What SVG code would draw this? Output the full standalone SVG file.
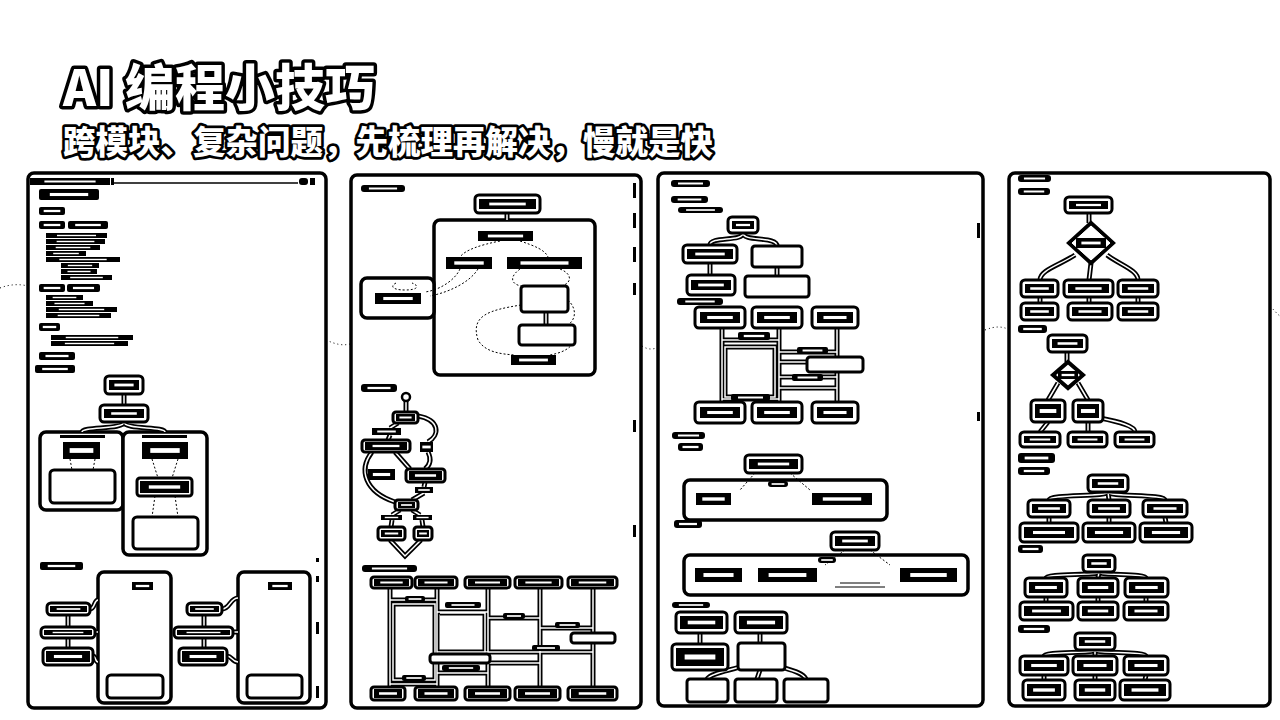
<svg xmlns="http://www.w3.org/2000/svg" width="1280" height="720" viewBox="0 0 1280 720">
<style>
.p{fill:#fff;stroke:#000;stroke-width:3.5}
.c{fill:#fff;stroke:#000;stroke-width:3.5}
.d{fill:#fff;stroke:#000;stroke-width:3}
.k{fill:url(#tx)}
.w{fill:#fff;stroke:#000;stroke-width:3}
.wb{fill:none;stroke:#000;stroke-width:5}
.wi{fill:none;stroke:#fff;stroke-width:1.5}
.dt{fill:none;stroke:#000;stroke-width:1;stroke-dasharray:2 2}
.bg{fill:none;stroke:#000;stroke-width:1;stroke-dasharray:1 3}
.sb{fill:#000}
.h1{font-family:"Noto Sans CJK SC","Noto Sans",sans-serif;font-weight:900;fill:#fff;stroke:#000;stroke-linejoin:round;paint-order:stroke}
</style>
<defs>
<pattern id="tx" patternUnits="objectBoundingBox" width="1" height="1" patternContentUnits="objectBoundingBox">
<rect width="1" height="1" fill="#000"/>
<rect x="0.18" y="0.36" width="0.64" height="0.28" fill="#fff"/>
</pattern>
<g id="wires">
<path d="M124,394 L124,405"/>
<path d="M124,422 C124,430 82,426 82,432"/>
<path d="M124,422 C124,430 165,426 165,432"/>
<path d="M68,615 L68,627 M68,638 L68,648"/>
<path d="M90,609 C95,609 94,600 98,600 M95,632 L98,632 M93,656 C96,656 95,662 98,662"/>
<path d="M204,615 L204,627 M204,638 L204,648"/>
<path d="M222,609 C230,609 230,598 238,598 M233,632 L238,632 M227,656 C232,656 232,662 238,662"/>
<path d="M507,213 L507,220"/>
<path d="M546,312 L546,325"/>
<path d="M406,401 L406,412"/>
<path d="M398,423 L390,428 M390,435 L388,440"/>
<path d="M418,416 C440,420 440,435 428,442"/>
<path d="M428,452 C432,460 430,465 425,469"/>
<path d="M372,452 C358,470 365,492 395,502"/>
<path d="M395,452 L410,469"/>
<path d="M425,482 L424,487 M424,493 L412,500"/>
<path d="M400,510 L392,515 M412,510 L420,515"/>
<path d="M392,520 L391,527 M422,520 L423,527"/>
<path d="M390,540 L405,556 L421,540"/>
<path d="M390,588 L390,687 M437,588 L437,687 M488,588 L488,687 M540,588 L540,687 M593,588 L593,687"/>
<path d="M390,600 L437,600 M393,604 L435,604 L435,680 L393,680 Z"/>
<path d="M437,612 L488,612 M440,613 L485,613 L485,653 L440,653"/>
<path d="M488,618 L540,618 M540,628 L593,628 M437,652 L593,652 M437,673 L488,673 M390,684 L437,684 M488,663 L540,663"/>
<path d="M743,233 C743,242 710,236 710,245 M743,233 C743,242 777,236 777,246"/>
<path d="M710,263 L710,275 M777,267 L777,276"/>
<path d="M722,328 L722,402 M779,328 L779,402 M837,328 L837,402"/>
<path d="M722,340 L779,340 M725,347 L775,347 L775,397 L725,397 Z"/>
<path d="M779,352 L837,352 M779,362 L807,362 M779,377 L837,377 M779,388 L837,388 M722,399 L779,399"/>
<path d="M700,633 L700,644 M760,633 L760,643"/>
<path d="M745,665 C735,670 712,672 707,679 M760,670 L757,679 M775,665 C790,670 802,672 806,679"/>
<path d="M1089,213 L1089,223"/>
<path d="M1075,255 C1060,265 1040,270 1040,280 M1091,263 L1089,280 M1107,255 C1120,265 1138,270 1138,280"/>
<path d="M1040,297 L1040,303 M1089,297 L1089,303 M1138,297 L1138,303"/>
<path d="M1067,352 L1067,362"/>
<path d="M1058,383 L1048,400 M1078,383 L1088,400"/>
<path d="M1048,422 L1040,432 M1088,422 L1088,432 M1100,418 C1120,422 1135,426 1135,432"/>
<path d="M1108,492 C1108,497 1049,494 1049,500 M1108,492 L1109,500 M1108,492 C1108,497 1165,494 1165,500"/>
<path d="M1049,517 L1049,523 M1109,517 L1109,523 M1165,517 L1166,523"/>
<path d="M1099,572 C1099,576 1046,573 1046,578 M1099,572 L1098,578 M1099,572 C1099,576 1146,573 1146,578"/>
<path d="M1046,597 L1046,602 M1098,597 L1098,602 M1146,597 L1146,602"/>
<path d="M1095,650 C1095,654 1044,651 1044,656 M1095,650 L1095,656 M1095,650 C1095,654 1146,651 1146,656"/>
<path d="M1044,675 L1044,680 M1095,675 L1095,680 M1146,675 L1145,680"/>
</g>
</defs>
<rect width="1280" height="720" fill="#fff"/>
<g id="background-lines">
<path class="bg" d="M0,288 C10,284 20,284 28,286"/>
<path class="bg" d="M326,340 C335,344 342,346 350,344"/>
<path class="bg" d="M642,346 C648,350 654,350 660,346"/>
<path class="bg" d="M985,330 C995,326 1002,326 1010,330"/>
<path class="bg" d="M1270,306 C1274,310 1277,314 1280,316"/>
</g>
<g id="title">
<text class="h1" x="63" y="106" font-size="50" stroke-width="7">AI 编程小技巧</text>
<text class="h1" x="63" y="154" font-size="32.5" stroke-width="5.5">跨模块、复杂问题，先梳理再解决，慢就是快</text>
</g>
<g id="panel1">
<rect class="p" x="28" y="173" width="298" height="535" rx="6"/>
<rect class="k" x="30" y="178" width="80" height="7"/>
<rect class="sb" x="111" y="178" width="3" height="7"/>
<line x1="114" y1="183" x2="298" y2="183" stroke="#000" stroke-width="1.5"/>
<rect class="sb" x="299" y="178" width="9" height="7" rx="3"/>
<rect class="sb" x="310" y="178" width="5" height="7"/>
<rect class="sb" x="316" y="558" width="3" height="4"/>
<rect class="sb" x="316" y="576" width="3" height="6"/>
<rect class="sb" x="316" y="622" width="3" height="12"/>
<rect class="sb" x="316" y="686" width="3" height="12"/>
</g>
<g id="panel2">
<rect class="p" x="351" y="175" width="290" height="533" rx="6"/>
<rect class="sb" x="633" y="183" width="3" height="15"/>
<rect class="sb" x="633" y="213" width="3" height="15"/>
<rect class="sb" x="633" y="247" width="3" height="15"/>
<rect class="sb" x="633" y="283" width="3" height="12"/>
<rect class="sb" x="633" y="420" width="3" height="12"/>
<rect class="sb" x="633" y="525" width="3" height="12"/>
</g>
<g id="panel3">
<rect class="p" x="658" y="173" width="325" height="533" rx="6"/>
<rect class="sb" x="977" y="223" width="3" height="15"/>
<rect class="sb" x="977" y="412" width="3" height="9"/>
</g>
<g id="panel4">
<rect class="p" x="1009" y="173" width="261" height="533" rx="6"/>
</g>
<g id="containers">
<rect class="c" x="40" y="432" width="83" height="78" rx="6"/>
<rect class="c" x="123" y="432" width="84" height="123" rx="6"/>
<rect class="c" x="98" y="572" width="73" height="131" rx="6"/>
<rect class="c" x="238" y="572" width="72" height="131" rx="6"/>
<rect class="c" x="434" y="220" width="161" height="155" rx="6"/>
<rect class="c" x="361" y="278" width="73" height="40" rx="6"/>
<rect class="c" x="684" y="480" width="203" height="40" rx="6"/>
<rect class="c" x="684" y="555" width="284" height="40" rx="6"/>
</g>
<g id="connectors">
<use href="#wires" class="wb"/>
<use href="#wires" class="wi"/>
<path class="dt" d="M70,459 L72,470 M95,459 L93,470"/>
<path class="dt" d="M152,459 L158,478 M178,459 L172,478 M155,496 L152,517 M175,496 L178,517"/>
<path class="dt" d="M500,241 C480,245 465,250 460,257 M520,241 C535,246 545,250 548,257"/>
<path class="dt" d="M460,269 C455,280 440,290 425,292 M478,269 C470,282 450,292 430,296"/>
<path class="dt" d="M520,269 C505,280 515,288 530,286 M560,269 C575,275 570,285 560,286"/>
<path class="dt" d="M521,305 C490,310 470,315 478,340 C485,352 500,354 515,355"/>
<path class="dt" d="M568,300 C578,310 575,320 568,325 M575,340 C570,350 560,353 550,355"/>
<path class="dt" d="M396,283 C390,286 392,290 405,290 C418,290 420,286 412,283"/>
<path class="dt" d="M755,473 L740,490 M790,473 L810,490"/>
<path class="dt" d="M845,550 L825,565 M870,550 L890,565"/>
<path d="M840,583 L880,583 M835,587 L885,587" stroke="#000" stroke-width="1" fill="none"/>
<circle cx="406" cy="397" r="4" fill="#fff" stroke="#000" stroke-width="2.5"/>
</g>
<g id="p1-list">
<rect class="k" x="39" y="189" width="60" height="11" rx="2"/>
<rect class="k" x="39" y="207" width="26" height="8" rx="2"/>
<rect class="k" x="39" y="221" width="26" height="8" rx="2"/>
<rect class="k" x="68" y="221" width="40" height="8" rx="2"/>
<rect class="k" x="46" y="233" width="61" height="5"/>
<rect class="k" x="46" y="239" width="59" height="5"/>
<rect class="k" x="46" y="245" width="54" height="5"/>
<rect class="k" x="46" y="251" width="40" height="5"/>
<rect class="k" x="46" y="257" width="74" height="5"/>
<rect class="k" x="61" y="263" width="38" height="5"/>
<rect class="k" x="61" y="269" width="36" height="5"/>
<rect class="k" x="61" y="275" width="51" height="5"/>
<rect class="k" x="39" y="284" width="26" height="8" rx="2"/>
<rect class="k" x="67" y="284" width="33" height="8" rx="2"/>
<rect class="k" x="46" y="295" width="37" height="5"/>
<rect class="k" x="46" y="301" width="47" height="5"/>
<rect class="k" x="46" y="307" width="71" height="5"/>
<rect class="k" x="46" y="313" width="65" height="5"/>
<rect class="k" x="39" y="323" width="21" height="8" rx="2"/>
<rect class="k" x="51" y="335" width="82" height="5"/>
<rect class="k" x="51" y="341" width="77" height="5"/>
<rect class="k" x="39" y="352" width="36" height="8" rx="2"/>
<rect class="k" x="35" y="365" width="40" height="8" rx="2"/>
</g>
<g id="p1-tree-root"><rect class="d" x="105" y="376" width="38" height="18" rx="4"/><rect class="k" x="109" y="380" width="30" height="10"/></g>
<g id="p1-tree-mid"><rect class="d" x="100" y="405" width="48" height="17" rx="4"/><rect class="k" x="104" y="409" width="40" height="9"/></g>
<g id="p1-left-box">
<rect class="sb" x="60" y="435" width="45" height="3"/>
<rect class="k" x="63" y="442" width="37" height="17"/>
<rect class="w" x="50" y="470" width="65" height="33" rx="4"/>
</g>
<g id="p1-right-box">
<rect class="sb" x="142" y="435" width="45" height="3"/>
<rect class="k" x="142" y="442" width="46" height="17"/>
<rect class="d" x="137" y="478" width="55" height="18" rx="3"/><rect class="k" x="140" y="481" width="49" height="12"/>
<rect class="w" x="133" y="517" width="65" height="32" rx="4"/>
</g>
<g id="p1-label4"><rect class="k" x="40" y="562" width="43" height="8" rx="2"/></g>
<g id="p1-left-col">
<rect class="k" x="132" y="582" width="21" height="8"/>
<rect class="w" x="107" y="675" width="56" height="23" rx="4"/>
<rect class="d" x="47" y="603" width="43" height="12" rx="4"/><rect class="k" x="50" y="606" width="37" height="6"/>
<rect class="d" x="41" y="627" width="54" height="11" rx="4"/><rect class="k" x="44" y="630" width="48" height="5"/>
<rect class="d" x="43" y="648" width="50" height="17" rx="4"/><rect class="k" x="46" y="651" width="44" height="11"/>
</g>
<g id="p1-right-col">
<rect class="k" x="268" y="582" width="24" height="8"/>
<rect class="w" x="247" y="675" width="55" height="23" rx="4"/>
<rect class="d" x="187" y="603" width="35" height="12" rx="4"/><rect class="k" x="190" y="606" width="29" height="6"/>
<rect class="d" x="174" y="627" width="59" height="11" rx="4"/><rect class="k" x="177" y="630" width="53" height="5"/>
<rect class="d" x="179" y="648" width="48" height="17" rx="4"/><rect class="k" x="182" y="651" width="42" height="11"/>
</g>
<g id="p2-label1"><rect class="k" x="361" y="185" width="44" height="7" rx="3"/></g>
<g id="p2-top"><rect class="d" x="475" y="195" width="65" height="18" rx="4"/><rect class="k" x="479" y="199" width="57" height="10"/></g>
<g id="p2-n1"><rect class="k" x="478" y="231" width="55" height="10"/></g>
<g id="p2-n2"><rect class="k" x="446" y="257" width="46" height="12"/></g>
<g id="p2-n3"><rect class="k" x="507" y="257" width="75" height="12"/></g>
<g id="p2-b1"><rect class="w" x="521" y="286" width="47" height="26" rx="3"/></g>
<g id="p2-b2"><rect class="w" x="519" y="325" width="56" height="20" rx="3"/></g>
<g id="p2-n4"><rect class="k" x="511" y="355" width="45" height="10"/></g>
<g id="p2-n5"><rect class="k" x="375" y="293" width="46" height="11"/></g>
<g id="p2-label2"><rect class="k" x="361" y="384" width="36" height="8" rx="3"/></g>
<g id="p2-flow">
<rect class="d" x="393" y="412" width="25" height="11" rx="3"/><rect class="k" x="396" y="414" width="19" height="7"/>
<rect class="k" x="372" y="428" width="29" height="7"/>
<rect class="d" x="362" y="440" width="48" height="12" rx="3"/><rect class="k" x="365" y="442" width="42" height="8"/>
<rect class="k" x="420" y="442" width="13" height="10"/>
<rect class="k" x="368" y="469" width="27" height="11"/>
<rect class="d" x="406" y="469" width="39" height="13" rx="3"/><rect class="k" x="409" y="471" width="33" height="9"/>
<rect class="k" x="415" y="487" width="18" height="6"/>
<rect class="d" x="395" y="500" width="23" height="10" rx="3"/><rect class="k" x="398" y="502" width="17" height="6"/>
<rect class="k" x="381" y="515" width="21" height="5"/>
<rect class="k" x="413" y="515" width="19" height="5"/>
<rect class="d" x="378" y="527" width="27" height="13" rx="3"/><rect class="k" x="381" y="530" width="21" height="7"/>
<rect class="d" x="414" y="527" width="18" height="13" rx="3"/><rect class="k" x="417" y="530" width="12" height="7"/>
</g>
<g id="p2-label3"><rect class="k" x="362" y="565" width="55" height="7" rx="3"/></g>
<g id="p2-grid">
<rect class="d" x="371" y="577" width="41" height="11" rx="3"/><rect class="k" x="374" y="579" width="35" height="7"/>
<rect class="d" x="415" y="577" width="42" height="11" rx="3"/><rect class="k" x="418" y="579" width="36" height="7"/>
<rect class="d" x="465" y="577" width="45" height="11" rx="3"/><rect class="k" x="468" y="579" width="39" height="7"/>
<rect class="d" x="515" y="577" width="47" height="11" rx="3"/><rect class="k" x="518" y="579" width="41" height="7"/>
<rect class="d" x="568" y="577" width="49" height="11" rx="3"/><rect class="k" x="571" y="579" width="43" height="7"/>
<rect class="d" x="371" y="687" width="34" height="13" rx="3"/><rect class="k" x="374" y="689" width="28" height="9"/>
<rect class="d" x="415" y="687" width="42" height="13" rx="3"/><rect class="k" x="418" y="689" width="36" height="9"/>
<rect class="d" x="465" y="687" width="45" height="13" rx="3"/><rect class="k" x="468" y="689" width="39" height="9"/>
<rect class="d" x="515" y="687" width="45" height="13" rx="3"/><rect class="k" x="518" y="689" width="39" height="9"/>
<rect class="d" x="568" y="687" width="49" height="13" rx="3"/><rect class="k" x="571" y="689" width="43" height="9"/>
<rect class="k" x="405" y="596" width="20" height="6" rx="2"/>
<rect class="k" x="445" y="602" width="36" height="6" rx="2"/>
<rect class="k" x="503" y="613" width="22" height="6" rx="2"/>
<rect class="k" x="555" y="622" width="25" height="6" rx="2"/>
<rect class="w" x="571" y="633" width="44" height="10" rx="3" stroke-width="2"/>
<rect class="k" x="532" y="645" width="28" height="6" rx="2"/>
<rect class="w" x="430" y="654" width="60" height="9" rx="3" stroke-width="2"/>
<rect class="k" x="442" y="665" width="38" height="6" rx="2"/>
<rect class="k" x="402" y="675" width="24" height="6" rx="2"/>
</g>
<g id="p3-labels">
<rect class="k" x="671" y="180" width="39" height="7" rx="3"/>
<rect class="k" x="671" y="196" width="37" height="7" rx="3"/>
<rect class="k" x="678" y="207" width="45" height="6" rx="3"/>
<rect class="k" x="677" y="298" width="46" height="7" rx="3"/>
<rect class="k" x="672" y="432" width="33" height="7" rx="3"/>
<rect class="k" x="678" y="443" width="25" height="8" rx="3"/>
<rect class="k" x="674" y="520" width="28" height="8" rx="3"/>
<rect class="k" x="672" y="602" width="38" height="6" rx="3"/>
</g>
<g id="p3-top"><rect class="d" x="728" y="217" width="30" height="16" rx="4"/><rect class="k" x="732" y="221" width="22" height="8"/></g>
<g id="p3-a"><rect class="d" x="683" y="245" width="54" height="18" rx="4"/><rect class="k" x="687" y="249" width="46" height="10"/></g>
<g id="p3-b"><rect class="w" x="752" y="246" width="50" height="21" rx="3"/></g>
<g id="p3-c"><rect class="d" x="687" y="275" width="48" height="20" rx="4"/><rect class="k" x="691" y="280" width="40" height="10"/></g>
<g id="p3-d"><rect class="w" x="745" y="276" width="64" height="21" rx="3"/></g>
<g id="p3-grid">
<rect class="d" x="695" y="307" width="50" height="21" rx="4"/><rect class="k" x="700" y="312" width="40" height="11"/>
<rect class="d" x="752" y="307" width="50" height="21" rx="4"/><rect class="k" x="757" y="312" width="40" height="11"/>
<rect class="d" x="812" y="307" width="46" height="21" rx="4"/><rect class="k" x="817" y="312" width="36" height="11"/>
<rect class="d" x="695" y="402" width="50" height="21" rx="4"/><rect class="k" x="700" y="407" width="40" height="11"/>
<rect class="d" x="752" y="402" width="50" height="21" rx="4"/><rect class="k" x="757" y="407" width="40" height="11"/>
<rect class="d" x="812" y="402" width="46" height="21" rx="4"/><rect class="k" x="817" y="407" width="36" height="11"/>
<rect class="k" x="738" y="332" width="32" height="8" rx="2"/>
<rect class="k" x="797" y="347" width="31" height="7" rx="2"/>
<rect class="w" x="807" y="357" width="56" height="15" rx="3" stroke-width="2"/>
<rect class="k" x="792" y="374" width="31" height="7" rx="2"/>
<rect class="k" x="731" y="394" width="39" height="7" rx="2"/>
</g>
<g id="p3-g1-top"><rect class="d" x="745" y="455" width="57" height="18" rx="4"/><rect class="k" x="749" y="459" width="49" height="10"/></g>
<g id="p3-g1-a"><rect class="k" x="696" y="493" width="35" height="12"/></g>
<g id="p3-g1-b"><rect class="k" x="812" y="493" width="60" height="12"/></g>
<g id="p3-g1-tag"><rect class="k" x="768" y="481" width="20" height="6" rx="3"/></g>
<g id="p3-g2-top"><rect class="d" x="831" y="532" width="48" height="18" rx="4"/><rect class="k" x="835" y="536" width="40" height="10"/></g>
<g id="p3-g2-a"><rect class="k" x="695" y="568" width="47" height="14"/></g>
<g id="p3-g2-b"><rect class="k" x="758" y="568" width="59" height="14"/></g>
<g id="p3-g2-c"><rect class="k" x="900" y="568" width="57" height="14"/></g>
<g id="p3-g2-tag"><rect class="k" x="818" y="557" width="18" height="6" rx="3"/></g>
<g id="p3-g3">
<rect class="d" x="676" y="612" width="51" height="21" rx="4"/><rect class="k" x="680" y="616" width="43" height="13"/>
<rect class="d" x="735" y="612" width="52" height="21" rx="4"/><rect class="k" x="739" y="616" width="44" height="13"/>
<rect class="d" x="672" y="644" width="56" height="26" rx="4"/><rect class="k" x="676" y="648" width="48" height="18"/>
<rect class="w" x="738" y="643" width="47" height="27" rx="3"/>
<rect class="w" x="687" y="679" width="41" height="23" rx="3"/>
<rect class="w" x="735" y="679" width="42" height="23" rx="3"/>
<rect class="w" x="784" y="679" width="44" height="23" rx="3"/>
</g>
<g id="p4-labels">
<rect class="k" x="1018" y="175" width="33" height="7" rx="3"/>
<rect class="k" x="1018" y="188" width="32" height="7" rx="3"/>
<rect class="k" x="1018" y="325" width="29" height="8" rx="3"/>
<rect class="k" x="1018" y="453" width="37" height="10" rx="3"/>
<rect class="k" x="1018" y="467" width="32" height="8" rx="3"/>
<rect class="k" x="1018" y="545" width="25" height="8" rx="3"/>
<rect class="k" x="1018" y="625" width="32" height="8" rx="3"/>
</g>
<g id="p4-t1">
<rect class="d" x="1065" y="197" width="47" height="16" rx="4"/><rect class="k" x="1069" y="201" width="39" height="8"/>
<polygon points="1091,223 1113,243 1091,263 1069,243" fill="#fff" stroke="#000" stroke-width="4"/>
<polygon points="1091,226 1110,243 1091,260 1072,243" fill="none" stroke="#fff" stroke-width="1"/>
<rect class="k" x="1076" y="238" width="30" height="10"/>
<rect class="d" x="1021" y="280" width="37" height="17" rx="4"/><rect class="k" x="1025" y="284" width="29" height="9"/>
<rect class="d" x="1064" y="280" width="49" height="17" rx="4"/><rect class="k" x="1068" y="284" width="41" height="9"/>
<rect class="d" x="1118" y="280" width="40" height="17" rx="4"/><rect class="k" x="1122" y="284" width="32" height="9"/>
<rect class="d" x="1021" y="303" width="37" height="17" rx="4"/><rect class="k" x="1025" y="307" width="29" height="9"/>
<rect class="d" x="1068" y="303" width="44" height="17" rx="4"/><rect class="k" x="1072" y="307" width="36" height="9"/>
<rect class="d" x="1118" y="303" width="40" height="17" rx="4"/><rect class="k" x="1122" y="307" width="32" height="9"/>
</g>
<g id="p4-t2">
<rect class="d" x="1048" y="335" width="39" height="17" rx="4"/><rect class="k" x="1052" y="339" width="31" height="9"/>
<polygon points="1068,362 1083,375 1068,388 1053,375" fill="#fff" stroke="#000" stroke-width="4"/>
<rect class="k" x="1058" y="371" width="20" height="8"/>
<rect class="d" x="1031" y="400" width="34" height="22" rx="4"/><rect class="k" x="1035" y="404" width="26" height="14"/>
<rect class="d" x="1073" y="400" width="30" height="22" rx="4"/><rect class="k" x="1077" y="404" width="22" height="14"/>
<rect class="d" x="1020" y="432" width="40" height="15" rx="4"/><rect class="k" x="1024" y="436" width="32" height="7"/>
<rect class="d" x="1068" y="432" width="39" height="15" rx="4"/><rect class="k" x="1072" y="436" width="31" height="7"/>
<rect class="d" x="1115" y="432" width="39" height="15" rx="4"/><rect class="k" x="1119" y="436" width="31" height="7"/>
</g>
<g id="p4-t3">
<rect class="d" x="1088" y="475" width="40" height="17" rx="4"/><rect class="k" x="1092" y="479" width="32" height="9"/>
<rect class="d" x="1028" y="500" width="42" height="17" rx="4"/><rect class="k" x="1032" y="504" width="34" height="9"/>
<rect class="d" x="1088" y="500" width="42" height="17" rx="4"/><rect class="k" x="1092" y="504" width="34" height="9"/>
<rect class="d" x="1143" y="500" width="44" height="17" rx="4"/><rect class="k" x="1147" y="504" width="36" height="9"/>
<rect class="d" x="1020" y="523" width="58" height="19" rx="4"/><rect class="k" x="1024" y="527" width="50" height="11"/>
<rect class="d" x="1083" y="523" width="52" height="19" rx="4"/><rect class="k" x="1087" y="527" width="44" height="11"/>
<rect class="d" x="1140" y="523" width="52" height="19" rx="4"/><rect class="k" x="1144" y="527" width="44" height="11"/>
</g>
<g id="p4-t4">
<rect class="d" x="1083" y="555" width="32" height="17" rx="4"/><rect class="k" x="1087" y="559" width="24" height="9"/>
<rect class="d" x="1025" y="578" width="42" height="19" rx="4"/><rect class="k" x="1029" y="582" width="34" height="11"/>
<rect class="d" x="1078" y="578" width="40" height="19" rx="4"/><rect class="k" x="1082" y="582" width="32" height="11"/>
<rect class="d" x="1125" y="578" width="43" height="19" rx="4"/><rect class="k" x="1129" y="582" width="35" height="11"/>
<rect class="d" x="1020" y="602" width="53" height="18" rx="4"/><rect class="k" x="1024" y="606" width="45" height="10"/>
<rect class="d" x="1078" y="602" width="40" height="18" rx="4"/><rect class="k" x="1082" y="606" width="32" height="10"/>
<rect class="d" x="1124" y="602" width="44" height="18" rx="4"/><rect class="k" x="1128" y="606" width="36" height="10"/>
</g>
<g id="p4-t5">
<rect class="d" x="1075" y="633" width="40" height="17" rx="4"/><rect class="k" x="1079" y="637" width="32" height="9"/>
<rect class="d" x="1020" y="656" width="48" height="19" rx="4"/><rect class="k" x="1024" y="660" width="40" height="11"/>
<rect class="d" x="1073" y="656" width="44" height="19" rx="4"/><rect class="k" x="1077" y="660" width="36" height="11"/>
<rect class="d" x="1124" y="656" width="44" height="19" rx="4"/><rect class="k" x="1128" y="660" width="36" height="11"/>
<rect class="d" x="1023" y="680" width="42" height="20" rx="4"/><rect class="k" x="1027" y="684" width="34" height="12"/>
<rect class="d" x="1075" y="680" width="40" height="20" rx="4"/><rect class="k" x="1079" y="684" width="32" height="12"/>
<rect class="d" x="1120" y="680" width="50" height="20" rx="4"/><rect class="k" x="1124" y="684" width="42" height="12"/>
</g>
</svg>
